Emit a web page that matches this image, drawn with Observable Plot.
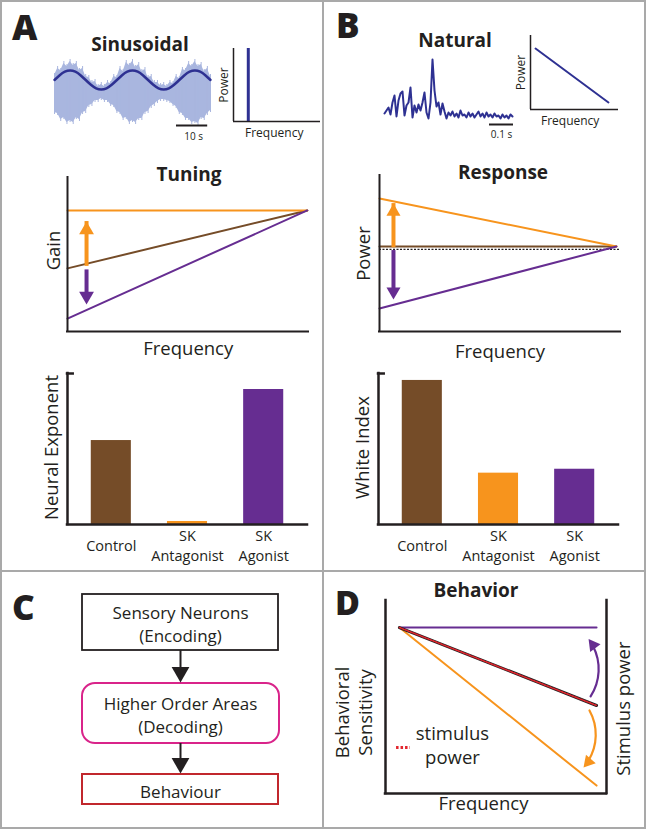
<!DOCTYPE html>
<html><head><meta charset="utf-8">
<script src="https://cdn.jsdelivr.net/npm/d3@7"></script>
<script src="https://cdn.jsdelivr.net/npm/@observablehq/plot@0.6"></script>
<style>
html,body{margin:0;padding:0;background:#fff;}
#root{position:relative;width:646px;height:829px;overflow:hidden;background:#fff;font-family:'Open Sans','Noto Sans',sans-serif;color:#231f20;}
.lbl{position:absolute;line-height:1;white-space:nowrap;}
.sep{position:absolute;background:#a9a9a9;}
</style></head><body><div id="root"></div>
<script>
// ---------------- DATA ----------------
const conditions = ["Control", "SK Antagonist", "SK Agonist"];
const conditionLabels = ["Control", "SK\nAntagonist", "SK\nAgonist"];
const neuralExponent = [0.556, 0.02, 0.894];
const whiteIndex = [0.954, 0.34, 0.366];

// Panel A: sinusoidal stimulus (normalised sine, 20 s period, sampled every 1/12 cycle)
const sineWave = [0,0.5,0.87,1,0.87,0.5,0,-0.5,-0.87,-1,-0.87,-0.5,
                  0,0.5,0.87,1,0.87,0.5,0,-0.5,-0.87,-1,-0.87,-0.5,
                  0,0.5,0.87,1,0.87,0.5,0];
const sineDuration = 50; // s
// amplitude-modulated carrier extents (upper / lower), one per second
const carrierTop = [17,24,22,29,26,31,27,29,22,24,16,15,10,11,6,8,6,10,9,16,15,
                    24,21,30,27,31,25,28,21,23,15,16,10,10,7,8,6,10,9,16,14,
                    23,22,29,26,31,26,28,21,24,16];
const carrierBottom = [20,21,27,25,30,28,30,25,27,20,19,13,12,8,8,6,8,8,12,13,19,
                       20,26,25,30,28,30,26,26,20,19,14,12,9,7,7,8,9,12,14,20,
                       21,26,26,30,29,31,25,26,21,18];
const sineScaleBar = 10;  // s
const sinePeakFreq = 0.17; // position of the single spectral line

// Panel B: natural stimulus (sampled at 120 Hz)
const naturalSignal = [7,10,13,6,18,25,4,20,27,29,5,15,18,33,3,15,8,16,10,18,28,8,2,18,61,30,14,18,6,17,9,2,8,5,9,4,7,3,10,5,6,3,8,4,7,3,6,9,4,7,3,8,4,6,3,7,4,5,2,6,3,5,2,6,4];
const naturalRate = 120; // Hz
const naturalScaleBar = 0.1; // s
const natSpectrumFreq = [0.057, 0.886];
const natSpectrumPower = [0.824, 0.095];

// Tuning (gain vs frequency)
const tuningFreq = [0, 0.995];
const gainControl = [0.41, 0.786];
const gainAntagonist = [0.786, 0.786];
const gainAgonist = [0.084, 0.786];

// Response (power vs frequency)
const responseFreq = [0, 0.983];
const powerControl = [0.545, 0.545];
const powerAntagonist = [0.853, 0.545];
const powerAgonist = [0.147, 0.545];
const whiteLevel = 0.526;

// Behavior
const behaviorFreq = [0.063, 0.955];
const sensAgonist = [0.86, 0.86];
const stimulusPower = [0.86, 0.456];
const sensAntagonist = [0.86, 0.041];

// Flow chart
const flowSteps = ["Sensory Neurons\n(Encoding)", "Higher Order Areas\n(Decoding)", "Behaviour"];

// ---------------- STYLE / LAYOUT ----------------
const FONT = "'Open Sans','Noto Sans',sans-serif";
const INK = "#231f20";
const BROWN = "#754c28", ORANGE = "#f7941d", PURPLE = "#662d91";
const BLUE = "#2e3192", LIGHTBLUE = "#a9b6df", RED = "#e2262e";
const condColors = [BROWN, ORANGE, PURPLE];
const flowColors = [INK, "#d9248a", "#c1272d"];
const root = document.getElementById("root");

function mount(box, opts) {
  const m = 45;
  const plot = Plot.plot({
    width: box.w + 2*m, height: box.h + 2*m,
    marginTop: m, marginRight: m, marginBottom: m, marginLeft: m,
    style: {background: "transparent", overflow: "visible", fontFamily: FONT, color: INK},
    color: {type: "identity"},
    x: {axis: null, ...(opts.x || {})},
    y: {axis: null, ...(opts.y || {})},
    marks: opts.marks
  });
  const wrap = document.createElement("div");
  wrap.style.cssText = `position:absolute;left:${box.x-m}px;top:${box.y-m}px;width:${box.w+2*m}px;height:${box.h+2*m}px;`;
  wrap.appendChild(plot);
  root.appendChild(wrap);
}
function label(text, x, baseline, size, weight, anchor) {
  const d = document.createElement("div");
  d.className = "lbl";
  d.textContent = text;
  d.style.fontSize = size + "px";
  d.style.fontWeight = weight;
  d.style.top = (baseline - 0.888*size) + "px";
  d.style.left = x + "px";
  if (anchor === "middle") d.style.transform = "translateX(-50%)";
  root.appendChild(d);
}
function sep(x, y, w, h) {
  const d = document.createElement("div");
  d.className = "sep";
  d.style.cssText = `left:${x}px;top:${y}px;width:${w}px;height:${h}px;`;
  root.appendChild(d);
}
// vertical arrow made of a shaft and a filled triangle head
function vArrow(x, from, to, color, r, sw) {
  const up = to > from;
  const tip = 1.555 * r;
  return [
    Plot.ruleX([x], {y1: from, y2: to, stroke: color, strokeWidth: sw,
      insetTop: up ? 1.6*r : 0, insetBottom: up ? 0 : 1.6*r}),
    Plot.dot([x], {x: d => d, y: to, symbol: "triangle", r, fill: color, stroke: "none",
      rotate: up ? 0 : 180, dy: up ? tip : -tip})
  ];
}
// curved arrow: arc (Plot.arrow with bend) + filled triangle head rotated along the end tangent
function curvedArrow(a, color, r, headingDeg) {
  const t = headingDeg * Math.PI / 180, back = 1.555 * r;
  return [
    Plot.arrow([a], {x1: d => d.x1, y1: d => d.y1, x2: d => d.x2, y2: d => d.y2, bend: a.bend,
      stroke: color, strokeWidth: 2.2, headLength: 0, insetEnd: 1.7 * r}),
    Plot.dot([a], {x: d => d.x2, y: d => d.y2, symbol: "triangle", r, fill: color, stroke: "none",
      rotate: headingDeg, dx: -Math.sin(t) * back, dy: Math.cos(t) * back})
  ];
}
const axisStyle = {stroke: INK, strokeWidth: 2, strokeLinecap: "square"};

// panel borders
sep(0, 0, 646, 2); sep(0, 827, 646, 2); sep(0, 0, 2, 829); sep(644, 0, 2, 829);
sep(322, 0, 2, 829); sep(0, 570, 646, 2);

// panel letters and titles
label("A", 12, 40, 35, 800);
label("B", 336, 38, 35, 800);
label("C", 12, 620, 35, 800);
label("D", 335, 615, 34, 800);
label("Sinusoidal", 140, 52, 19, 700, "middle");
label("Natural", 455, 48, 19, 700, "middle");
label("Tuning", 189, 182, 19, 700, "middle");
label("Response", 503, 180, 19, 700, "middle");
label("Behavior", 476, 598, 19, 700, "middle");

// ---- A: sinusoidal stimulus ----
const sineStep = sineDuration / (sineWave.length - 1);
const barStartA = 39.1;
mount({x: 54, y: 55, w: 156, h: 70}, {
  x: {domain: [0, sineDuration]}, y: {domain: [-33, 37]},
  marks: [
    Plot.areaY(carrierTop, {x: (d, i) => i, y1: (d, i) => -carrierBottom[i], y2: d => d, fill: LIGHTBLUE}),
    Plot.ruleX(carrierTop, {x: (d, i) => i, y1: (d, i) => -carrierBottom[i] - 2, y2: d => d + 2, stroke: LIGHTBLUE, strokeWidth: 1}),
    Plot.line(sineWave, {x: (d, i) => i * sineStep, y: d => 12.5 + 9.5 * d, stroke: BLUE, strokeWidth: 2.5, curve: "natural"}),
    Plot.ruleY([-33], {x1: barStartA, x2: barStartA + sineScaleBar, stroke: INK, strokeWidth: 2}),
    Plot.text([`${sineScaleBar} s`], {x: barStartA + sineScaleBar/2 + 0.5, y: -33, dy: 11, fontSize: 10})
  ]
});
// A: spectrum inset
mount({x: 233, y: 48, w: 87, h: 73}, {
  x: {domain: [0, 1]}, y: {domain: [0, 1]},
  marks: [
    Plot.ruleX([sinePeakFreq], {y1: 0, y2: 1, stroke: BLUE, strokeWidth: 3}),
    Plot.ruleX([0], {y1: 0, y2: 1, stroke: INK, strokeWidth: 1.5}),
    Plot.ruleY([0], {x1: 0, x2: 1, stroke: INK, strokeWidth: 1.5}),
    Plot.text(["Power"], {x: 0, y: 0.5, rotate: -90, dx: -9, fontSize: 12}),
    Plot.text(["Frequency"], {x: 0.468, y: 0, dy: 12, fontSize: 12})
  ]
});

// ---- B: natural stimulus ----
const natEnd = (naturalSignal.length - 1) / naturalRate;
const barStartB = 0.4375;
mount({x: 384, y: 55, w: 128, h: 70}, {
  x: {domain: [0, natEnd]}, y: {domain: [-5, 65]},
  marks: [
    Plot.line(naturalSignal, {x: (d, i) => i / naturalRate, y: d => d, stroke: BLUE, strokeWidth: 2, strokeLinejoin: "round"}),
    Plot.ruleY([-4], {x1: barStartB, x2: barStartB + naturalScaleBar, stroke: INK, strokeWidth: 2}),
    Plot.text([`${naturalScaleBar} s`], {x: barStartB + naturalScaleBar/2, y: -4, dy: 10, fontSize: 10})
  ]
});
mount({x: 530, y: 35, w: 88, h: 74}, {
  x: {domain: [0, 1]}, y: {domain: [0, 1]},
  marks: [
    Plot.line(natSpectrumPower, {x: (d, i) => natSpectrumFreq[i], y: d => d, stroke: BLUE, strokeWidth: 2}),
    Plot.ruleX([0], {y1: 0, y2: 1, stroke: INK, strokeWidth: 1.5}),
    Plot.ruleY([0], {x1: 0, x2: 1, stroke: INK, strokeWidth: 1.5}),
    Plot.text(["Power"], {x: 0, y: 0.5, rotate: -90, dx: -9, fontSize: 12}),
    Plot.text(["Frequency"], {x: 0.451, y: 0, dy: 12, fontSize: 12})
  ]
});

// ---- A: tuning ----
mount({x: 67, y: 177, w: 241, h: 154}, {
  x: {domain: [0, 1]}, y: {domain: [0, 1]},
  marks: [
    Plot.line(gainControl, {x: (d, i) => tuningFreq[i], y: d => d, stroke: BROWN, strokeWidth: 2}),
    Plot.line(gainAntagonist, {x: (d, i) => tuningFreq[i], y: d => d, stroke: ORANGE, strokeWidth: 2}),
    Plot.line(gainAgonist, {x: (d, i) => tuningFreq[i], y: d => d, stroke: PURPLE, strokeWidth: 2}),
    ...vArrow(0.079, 0.48, 0.714, ORANGE, 5.5, 4),
    ...vArrow(0.079, 0.40, 0.175, PURPLE, 5.5, 4),
    Plot.ruleX([0], {y1: 0, y2: 1, ...axisStyle}),
    Plot.ruleY([0], {x1: 0, x2: 1, ...axisStyle}),
    Plot.text(["Gain"], {x: 0, y: 0.526, rotate: -90, dx: -13, fontSize: 18.5}),
    Plot.text(["Frequency"], {x: 0.501, y: 0, dy: 18, fontSize: 18.5})
  ]
});

// ---- B: response ----
mount({x: 379, y: 175, w: 241, h: 156}, {
  x: {domain: [0, 1]}, y: {domain: [0, 1]},
  marks: [
    Plot.ruleY([whiteLevel], {x1: 0, x2: 1, stroke: INK, strokeWidth: 1.3, strokeDasharray: "2,1.5"}),
    Plot.line(powerControl, {x: (d, i) => responseFreq[i], y: d => d, stroke: BROWN, strokeWidth: 2}),
    Plot.line(powerAntagonist, {x: (d, i) => responseFreq[i], y: d => d, stroke: ORANGE, strokeWidth: 2}),
    Plot.line(powerAgonist, {x: (d, i) => responseFreq[i], y: d => d, stroke: PURPLE, strokeWidth: 2}),
    ...vArrow(0.058, 0.59, 0.82, ORANGE, 5.2, 4),
    ...vArrow(0.058, 0.519, 0.205, PURPLE, 5.2, 4),
    Plot.ruleX([0], {y1: 0, y2: 1, ...axisStyle}),
    Plot.ruleY([0], {x1: 0, x2: 1, ...axisStyle}),
    Plot.text(["Power"], {x: 0, y: 0.5, rotate: -90, dx: -15, fontSize: 18.5}),
    Plot.text(["Frequency"], {x: 0.5, y: 0, dy: 21, fontSize: 18.5})
  ]
});

// ---- bar charts ----
const BAR_DOMAIN = [-0.075, 3.075];
const BAR_HALF = 0.263;
function bars(box, values, ylabel) {
  mount(box, {
    x: {domain: BAR_DOMAIN}, y: {domain: [0, 1]},
    marks: [
      Plot.rectY(values, {x1: (d, i) => i + 0.5 - BAR_HALF, x2: (d, i) => i + 0.5 + BAR_HALF,
        y1: 0, y2: d => d, fill: (d, i) => condColors[i]}),
      Plot.ruleX([BAR_DOMAIN[0]], {y1: 0, y2: 1, ...axisStyle, strokeWidth: 2.5}),
      Plot.ruleY([0], {x1: BAR_DOMAIN[0], x2: BAR_DOMAIN[1], ...axisStyle, strokeWidth: 2.5}),
      Plot.ruleY([1], {x1: BAR_DOMAIN[0], x2: 0, ...axisStyle, strokeWidth: 2.5}),
      Plot.text(conditionLabels, {x: (d, i) => i + 0.5, y: 0, dy: 20, fontSize: 14.5, lineHeight: 1.38}),
      Plot.text([ylabel], {x: BAR_DOMAIN[0], y: 0.51, rotate: -90, dx: -15, fontSize: 18.5})
    ]
  });
}
bars({x: 67, y: 373, w: 240, h: 151}, neuralExponent, "Neural Exponent");
bars({x: 378, y: 373, w: 240, h: 151}, whiteIndex, "White Index");

// ---- C: flow chart ----
const flowBoxes = [[9, 65], [98, 158], [189, 219]]; // top, bottom (layout)
const flowX = [22, 218], flowMid = 120;
mount({x: 60, y: 585, w: 240, h: 230}, {
  x: {domain: [0, 240]}, y: {domain: [0, 230], reverse: true},
  marks: [
    ...flowSteps.map((s, i) => Plot.rect([s], {x1: flowX[0], x2: flowX[1] + (i === 1 ? 1 : 0),
      y1: flowBoxes[i][0], y2: flowBoxes[i][1], fill: "none", stroke: flowColors[i],
      strokeWidth: i === 0 ? 1.8 : 2, rx: i === 1 ? 13 : 0})),
    ...[0, 1].flatMap(i => [
      Plot.ruleX([flowMid], {y1: flowBoxes[i][1], y2: flowBoxes[i+1][0] - 1, stroke: INK, strokeWidth: 2, insetBottom: 10}),
      Plot.dot([flowMid], {x: d => d, y: flowBoxes[i+1][0] - 1, symbol: "triangle", r: 6.6, fill: INK, rotate: 180, dy: -10.3})
    ]),
    Plot.text(flowSteps, {x: flowMid, y: (d, i) => (flowBoxes[i][0] + flowBoxes[i][1]) / 2 + 1, fontSize: 17, lineHeight: 1.33})
  ]
});

// ---- D: behavior ----
const agonistShift = {x1: 0.928, y1: 0.503, x2: 0.919, y2: 0.80, bend: -35};
const antagonistShift = {x1: 0.923, y1: 0.43, x2: 0.896, y2: 0.135, bend: 35};
mount({x: 385, y: 600, w: 221, h: 193}, {
  x: {domain: [0, 1]}, y: {domain: [0, 1]},
  marks: [
    Plot.line(sensAntagonist, {x: (d, i) => behaviorFreq[i], y: d => d, stroke: ORANGE, strokeWidth: 2}),
    Plot.line(sensAgonist, {x: (d, i) => behaviorFreq[i], y: d => d, stroke: PURPLE, strokeWidth: 2}),
    Plot.line(stimulusPower, {x: (d, i) => behaviorFreq[i], y: d => d, stroke: INK, strokeWidth: 3}),
    Plot.line(stimulusPower, {x: (d, i) => behaviorFreq[i], y: d => d, stroke: RED, strokeWidth: 1.6, strokeDasharray: "1.5,1.5"}),
    ...curvedArrow(agonistShift, PURPLE, 4.8, -37),
    ...curvedArrow(antagonistShift, ORANGE, 4.8, 221),
    Plot.ruleX([0], {y1: 0, y2: 1, ...axisStyle, strokeWidth: 2.5}),
    Plot.ruleX([1], {y1: 0, y2: 1, ...axisStyle, strokeWidth: 2.5}),
    Plot.ruleY([0], {x1: 0, x2: 1, ...axisStyle, strokeWidth: 2.5}),
    Plot.ruleY([0.238], {x1: 0.05, x2: 0.113, stroke: RED, strokeWidth: 3, strokeDasharray: "2.5,2"}),
    Plot.text(["stimulus\npower"], {x: 0.303, y: 0.254, fontSize: 18.5, lineHeight: 1.3}),
    Plot.text(["Behavioral\nSensitivity"], {x: 0, y: 0.42, rotate: -90, dx: -32.4, fontSize: 18.5, lineHeight: 1.24}),
    Plot.text(["Stimulus power"], {x: 1, y: 0.44, rotate: -90, dx: 17.7, fontSize: 18.5}),
    Plot.text(["Frequency"], {x: 0.443, y: 0, dy: 11, fontSize: 18.5})
  ]
});
</script></body></html>
